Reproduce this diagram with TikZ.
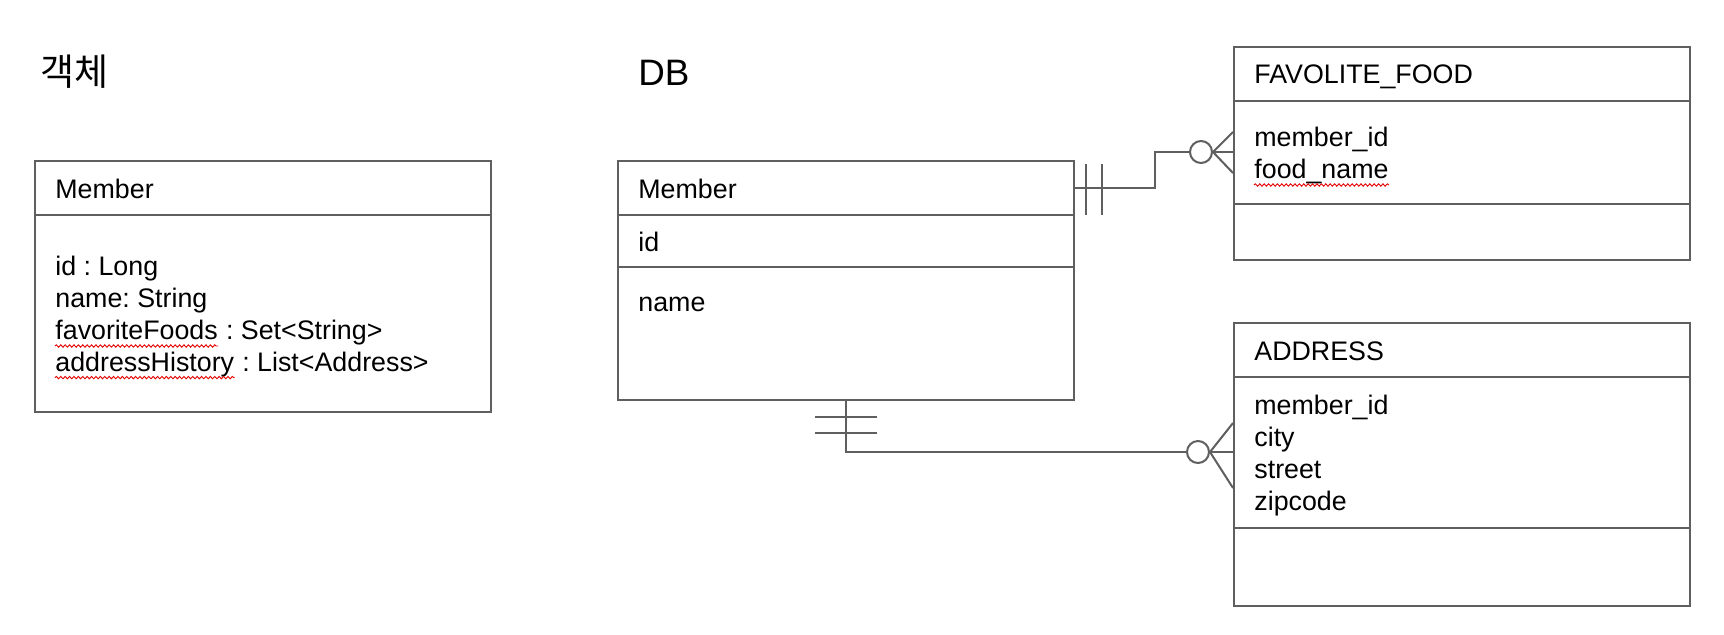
\documentclass[tikz,border=0pt]{standalone}
\usepackage{fontspec}
\setmainfont{Liberation Sans}
\newfontfamily\kofont{Noto Sans CJK KR}
\usetikzlibrary{decorations.pathmorphing}
\frenchspacing
\definecolor{edge}{RGB}{95,95,95}
\tikzset{
	tbl/.style={draw=edge, line width=1pt, minimum width=228pt, inner sep=0pt},
	txt/.style={anchor=base west, inner sep=0pt, font=\fontsize{13.4}{16}\selectfont},
	rel/.style={draw=edge, line width=1pt},
	ring/.style={draw=edge, line width=1pt, circle, minimum size=11pt, inner sep=0pt},
	typo/.style={draw=red!90!black, line width=0.45pt, decorate, decoration={snake, segment length=2.2pt, amplitude=0.6pt}},
}
\begin{document}
\begin{tikzpicture}[x=0.5pt, y=-0.5pt]
	\useasboundingbox[fill=white] (0,0) rectangle (1724,634);

	% titles
	\node[anchor=base west, inner sep=0pt, font=\kofont\fontsize{18.5}{22}\selectfont] (objtitle) at (40,85) {객체};
	\node[anchor=base west, inner sep=0pt, font=\fontsize{18.4}{22}\selectfont] (dbtitle) at (638,85) {DB};

	% object side
	\node[tbl, minimum height=125.5pt] (obj) at (263,286.5) {};
	\draw[rel] (obj.west |- 0,215) -- (obj.east |- 0,215);
	\node[txt] (objname) at (55,198) {Member};
	\node[txt] (objid) at (55,275) {id : Long};
	\node[txt] (objnm) at (55,307) {name: String};
	\node[txt] (foods) at (55,339) {favoriteFoods};
	\node[txt] at (foods.base east) {\ : Set<String>};
	\node[txt] (hist) at (55,371) {addressHistory};
	\node[txt] at (hist.base east) {\ : List<Address>};
	\draw[typo] ([yshift=-3.5pt]foods.base west) -- ([yshift=-3.5pt]foods.base east);
	\draw[typo] ([yshift=-3.3pt]hist.base west) -- ([yshift=-3.3pt]hist.base east);

	% DB member
	\node[tbl, minimum height=119.5pt] (dbm) at (846,280.5) {};
	\draw[rel] (dbm.west |- 0,215) -- (dbm.east |- 0,215);
	\draw[rel] (dbm.west |- 0,267) -- (dbm.east |- 0,267);
	\node[txt] (dbmname) at (638,198) {Member};
	\node[txt] (dbmid) at (638,251) {id};
	\node[txt] (dbmnm) at (638,311) {name};

	% FAVOLITE_FOOD
	\node[tbl, minimum height=106.5pt] (fav) at (1462,153.5) {};
	\draw[rel] (fav.west |- 0,101) -- (fav.east |- 0,101);
	\draw[rel] (fav.west |- 0,204) -- (fav.east |- 0,204);
	\node[txt] (favname) at (1254,83) {FAVOLITE\_FOOD};
	\node[txt] (favmid) at (1254,146) {member\_id};
	\node[txt] (favfood) at (1254,178) {food\_name};
	\draw[typo] ([yshift=-3.5pt]favfood.base west) -- ([yshift=-3.5pt]favfood.base east);

	% ADDRESS
	\node[tbl, minimum height=141.5pt] (addr) at (1462,464.5) {};
	\draw[rel] (addr.west |- 0,377) -- (addr.east |- 0,377);
	\draw[rel] (addr.west |- 0,528) -- (addr.east |- 0,528);
	\node[txt] (addrname) at (1254,360) {ADDRESS};
	\node[txt] (addrmid) at (1254,414) {member\_id};
	\node[txt] (addrcity) at (1254,446) {city};
	\node[txt] (addrstreet) at (1254,478) {street};
	\node[txt] (addrzip) at (1254,510) {zipcode};

	% member -- favolite_food
	\coordinate (m1) at (dbm.east |- 0,188);
	\node[ring] (o1) at (1201,152) {};
	\draw[rel] (m1) -- ++(80,0) |- (o1);
	\draw[rel] (1086,164) -- (1086,215);
	\draw[rel] (1102,164) -- (1102,215);
	\draw[rel] (o1.east) -- (fav.west |- 0,132);
	\draw[rel] (o1.east) -- (fav.west |- 0,152);
	\draw[rel] (o1.east) -- (fav.west |- 0,173);

	% member -- address
	\node[ring] (o2) at (1198,452) {};
	\draw[rel] (dbm.south) |- (o2);
	\draw[rel] (815,417) -- (877,417);
	\draw[rel] (815,433) -- (877,433);
	\draw[rel] (o2.east) -- (addr.west |- 0,423);
	\draw[rel] (o2.east) -- (addr.west |- 0,452);
	\draw[rel] (o2.east) -- (addr.west |- 0,488);
\end{tikzpicture}
\end{document}
